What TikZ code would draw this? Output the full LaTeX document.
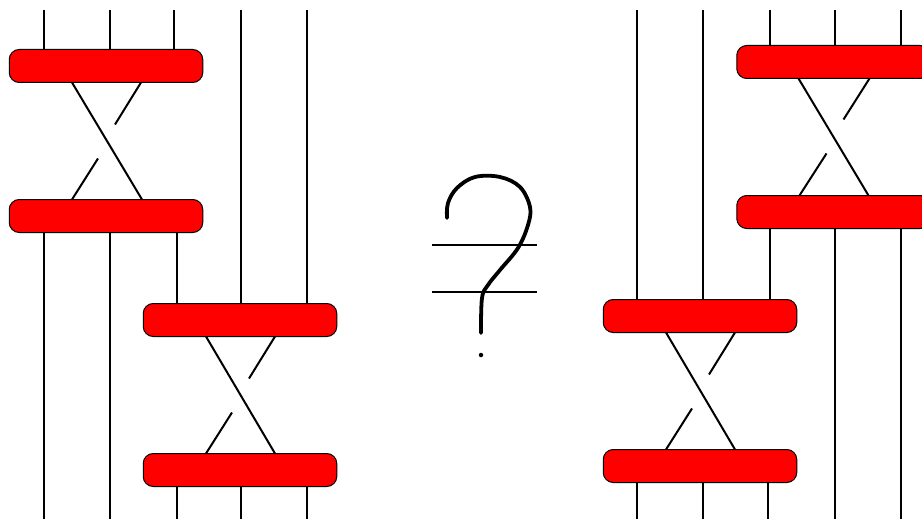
\documentclass[tikz,border=0pt]{standalone}
\usetikzlibrary{calc}
\definecolor{Barra}{HTML}{FF0000}
\tikzset{
  barra/.style={draw=black,fill=Barra,rounded corners=10pt,minimum width=193.5pt,minimum height=33pt,inner sep=0pt,outer sep=0pt,line width=1pt},
  hebra/.style={line width=2pt,black},
  trazo/.style={line width=3.8pt,black,line cap=round,line join=round}
}
\begin{document}
\begin{tikzpicture}[x=1pt,y=-1pt]
        \clip (0,0) rectangle (922,519);
        % izquierda
        \node[barra] (a) at (106,66) {};
        \node[barra] (b) at (106,216) {};
        \node[barra] (c) at (240,320) {};
        \node[barra] (d) at (240,470) {};
        % derecha
        \node[barra] (e) at (833.5,62) {};
        \node[barra] (f) at (833.5,212) {};
        \node[barra] (g) at (700,316) {};
        \node[barra] (h) at (700,466) {};
        % bordes
        \coordinate (arriba) at (0,10);
        \coordinate (abajo) at (0,519);
        \draw[hebra] (44,0 |- arriba) -- (44,0 |- a.north);
        \draw[hebra] (110,0 |- arriba) -- (110,0 |- a.north);
        \draw[hebra] (174,0 |- arriba) -- (174,0 |- a.north);
        \draw[hebra] (241,0 |- arriba) -- (241,0 |- c.north);
        \draw[hebra] (307,0 |- arriba) -- (307,0 |- c.north);
        \draw[hebra] (44,0 |- b.south) -- (44,0 |- abajo);
        \draw[hebra] (110,0 |- b.south) -- (110,0 |- abajo);
        \draw[hebra] (177,0 |- b.south) -- (177,0 |- c.north);
        \draw[hebra] (177,0 |- d.south) -- (177,0 |- abajo);
        \draw[hebra] (241,0 |- d.south) -- (241,0 |- abajo);
        \draw[hebra] (307,0 |- d.south) -- (307,0 |- abajo);
        \draw[hebra] (637,0 |- arriba) -- (637,0 |- g.north);
        \draw[hebra] (703,0 |- arriba) -- (703,0 |- g.north);
        \draw[hebra] (770,0 |- arriba) -- (770,0 |- e.north);
        \draw[hebra] (835,0 |- arriba) -- (835,0 |- e.north);
        \draw[hebra] (901,0 |- arriba) -- (901,0 |- e.north);
        \draw[hebra] (835,0 |- f.south) -- (835,0 |- abajo);
        \draw[hebra] (901,0 |- f.south) -- (901,0 |- abajo);
        \draw[hebra] (770,0 |- f.south) -- (770,0 |- g.north);
        \draw[hebra] (637,0 |- h.south) -- (637,0 |- abajo);
        \draw[hebra] (703,0 |- h.south) -- (703,0 |- abajo);
        \draw[hebra] (768,0 |- h.south) -- (768,0 |- abajo);
        % cruces
        \draw[hebra] ($(a.south)+(-34,0)$) -- ($(b.north)+(36,0)$);
        \draw[hebra] ($(a.south)+(35,0)$) -- ($(a.south)+(9,42)$);
        \draw[hebra] ($(b.north)+(-34,0)$) -- ($(b.north)+(-8,-41)$);
        \draw[hebra] ($(c.south)+(-34,0)$) -- ($(d.north)+(35,0)$);
        \draw[hebra] ($(c.south)+(35,0)$) -- ($(c.south)+(9,42)$);
        \draw[hebra] ($(d.north)+(-34,0)$) -- ($(d.north)+(-8,-41)$);
        \draw[hebra] ($(e.south)+(-35,0)$) -- ($(f.north)+(35,0)$);
        \draw[hebra] ($(e.south)+(36,0)$) -- ($(e.south)+(10,41)$);
        \draw[hebra] ($(f.north)+(-34,0)$) -- ($(f.north)+(-7,-42)$);
        \draw[hebra] ($(g.south)+(-34,0)$) -- ($(h.north)+(35,0)$);
        \draw[hebra] ($(g.south)+(35,0)$) -- ($(g.south)+(9,42)$);
        \draw[hebra] ($(h.north)+(-34,0)$) -- ($(h.north)+(-8,-41)$);
        % interrogante
        \draw[hebra] (432,245) -- (537,245);
        \draw[hebra] (432,292) -- (537,292);
        \draw[trazo] plot[smooth,tension=0.6] coordinates {(447,218) (448,203) (457,188) (475,177) (500,177) (520,187) (530,207) (528,225) (518,248) (500,270) (488,285) (482,298) (481,333)};
        \node[circle,fill=black,inner sep=0pt,minimum size=4.5pt] (punto) at (481,355) {};
      \end{tikzpicture}
\end{document}
